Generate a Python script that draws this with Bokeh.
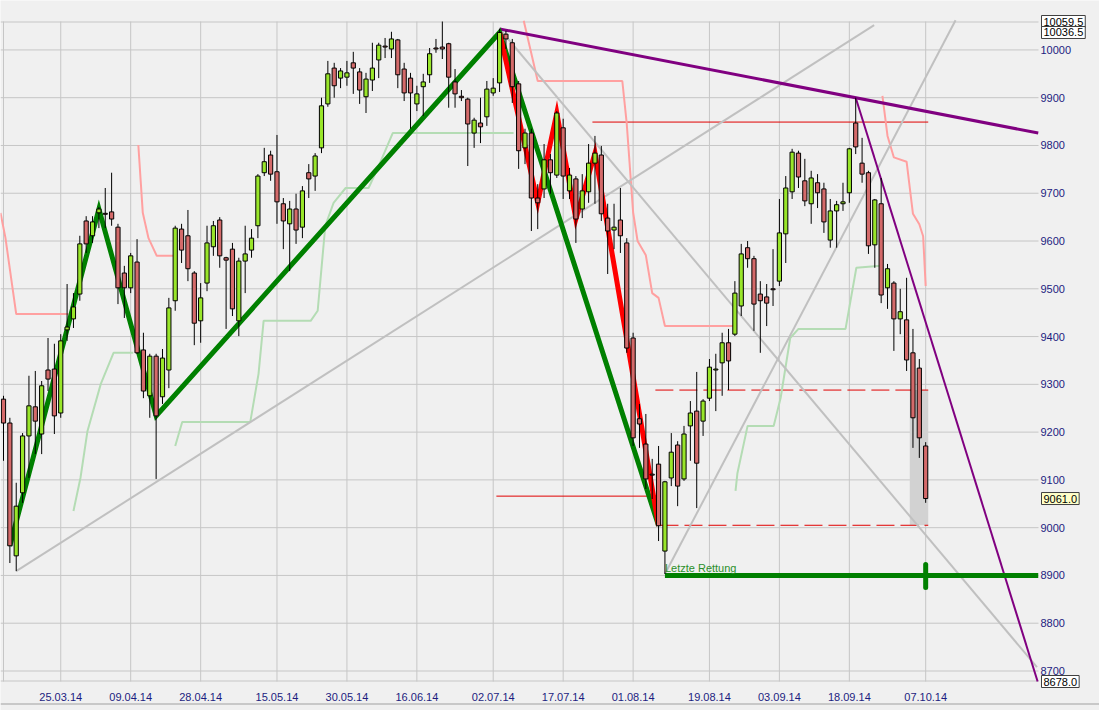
from bokeh.plotting import figure
from bokeh.models import Range1d, Label, ColumnDataSource
from bokeh.core.properties import value
from bokeh.embed import file_html
from bokeh.resources import INLINE

# ---------------- data (DAX daily, bar index 0 = 12.03.14) ----------------
opens = [9269, 9219, 8941, 9073, 9192, 9253, 9196, 9330, 9332, 9240,
         9414, 9437, 9489, 9642, 9611, 9659, 9658, 9661, 9629, 9533,
         9502, 9556, 9372, 9276, 9359, 9274, 9330, 9475, 9625, 9611,
         9533, 9433, 9512, 9588, 9644, 9565, 9583, 9433, 9558, 9581,
         9632, 9743, 9780, 9745, 9678, 9636, 9667, 9629, 9743, 9736,
         9795, 9887, 9962, 9941, 9943, 9973, 9954, 9902, 9937, 9979,
         10008, 10002, 10021, 9960, 9941, 9887, 9923, 9948, 10004, 10006,
         10013, 9933, 9903, 9897, 9826, 9847, 9860, 9910, 9931, 10033,
         10015, 9929, 9795, 9826, 9690, 9709, 9770, 9738, 9837, 9705,
         9730, 9667, 9703, 9763, 9780, 9648, 9623, 9644, 9596, 9397,
         9228, 9175, 9112, 9133, 8951, 9104, 9173, 9102, 9213, 9244,
         9223, 9271, 9330, 9345, 9387, 9405, 9464, 9586, 9563, 9489,
         9483, 9500, 9516, 9615, 9703, 9784, 9726, 9678, 9722, 9709,
         9602, 9663, 9678, 9701, 9847, 9763, 9743, 9592, 9678, 9502,
         9512, 9437, 9435, 9366, 9334, 9171]
highs = [9276, 9230, 9094, 9198, 9318, 9328, 9307, 9397, 9385, 9405,
         9510, 9491, 9611, 9652, 9652, 9671, 9711, 9743, 9636, 9548,
         9575, 9604, 9408, 9364, 9364, 9374, 9481, 9632, 9636, 9665,
         9537, 9512, 9632, 9642, 9650, 9567, 9596, 9565, 9632, 9625,
         9740, 9795, 9789, 9822, 9690, 9684, 9699, 9715, 9761, 9784,
         9900, 9977, 9973, 9962, 9977, 9996, 9962, 9952, 10015, 10015,
         10025, 10038, 10023, 9973, 9952, 9925, 9950, 10004, 10023, 10059.5,
         10015, 9960, 9916, 9900, 9858, 9900, 9935, 9941, 10044, 10040,
         10023, 9935, 9835, 9835, 9719, 9803, 9782, 9872, 9856, 9753,
         9736, 9740, 9803, 9820, 9799, 9678, 9678, 9711, 9606, 9408,
         9259, 9238, 9144, 9171, 9098, 9198, 9181, 9213, 9265, 9326,
         9269, 9353, 9364, 9408, 9416, 9516, 9594, 9600, 9569, 9516,
         9510, 9583, 9688, 9736, 9793, 9789, 9772, 9747, 9740, 9722,
         9688, 9684, 9722, 9795, 9900, 9816, 9747, 9688, 9732, 9552,
         9516, 9500, 9523, 9416, 9353, 9179]
lows = [9140, 8926, 8909, 9052, 9104, 9154, 9154, 9286, 9196, 9230,
        9391, 9418, 9475, 9575, 9596, 9627, 9627, 9632, 9468, 9439,
        9491, 9364, 9271, 9230, 9102, 9259, 9292, 9454, 9554, 9516,
        9382, 9387, 9495, 9569, 9544, 9416, 9443, 9401, 9491, 9565,
        9606, 9736, 9726, 9636, 9583, 9537, 9594, 9606, 9690, 9705,
        9784, 9881, 9900, 9920, 9925, 9908, 9887, 9868, 9914, 9941,
        9983, 9983, 9920, 9893, 9835, 9872, 9862, 9931, 9994, 9981,
        9879, 9879, 9893, 9757, 9795, 9805, 9841, 9904, 9912, 10002,
        9889, 9751, 9761, 9621, 9625, 9690, 9699, 9732, 9688, 9688,
        9596, 9648, 9680, 9678, 9642, 9531, 9583, 9575, 9366, 9171,
        9167, 9081, 9060, 8972, 8903, 9087, 9045, 9098, 9140, 9041,
        9192, 9265, 9244, 9276, 9288, 9401, 9443, 9544, 9412, 9366,
        9422, 9464, 9506, 9554, 9688, 9711, 9673, 9636, 9669, 9617,
        9586, 9586, 9663, 9680, 9782, 9722, 9573, 9544, 9470, 9458,
        9370, 9405, 9328, 9167, 9146, 9052]
closes = [9219, 8962, 9045, 9192, 9255, 9223, 9297, 9311, 9234, 9391,
          9420, 9462, 9594, 9594, 9640, 9667, 9656, 9646, 9502, 9502,
          9569, 9366, 9286, 9359, 9234, 9355, 9460, 9627, 9581, 9542,
          9428, 9481, 9596, 9632, 9569, 9560, 9458, 9558, 9573, 9606,
          9736, 9766, 9740, 9682, 9642, 9667, 9623, 9705, 9730, 9778,
          9883, 9950, 9925, 9956, 9952, 9962, 9916, 9939, 9962, 10010,
          10006, 10023, 9948, 9910, 9910, 9908, 9933, 9992, 10002, 10002,
          9943, 9908, 9900, 9845, 9853, 9839, 9918, 9920, 10036.5, 10023,
          9923, 9789, 9826, 9690, 9680, 9770, 9743, 9868, 9736, 9738,
          9646, 9705, 9763, 9784, 9657, 9621, 9629, 9611, 9376, 9188,
          9217, 9102, 9110, 9004, 9096, 9158, 9087, 9196, 9240, 9135,
          9265, 9336, 9332, 9387, 9349, 9491, 9573, 9563, 9468, 9475,
          9470, 9498, 9617, 9711, 9786, 9734, 9684, 9732, 9701, 9640,
          9663, 9676, 9682, 9793, 9797, 9740, 9590, 9686, 9487, 9542,
          9437, 9452, 9351, 9230, 9188, 9061]

grid_dates = [0, 9, 20, 31, 43, 54, 65, 77, 88, 99, 111, 122, 133, 145]
date_ticks = [9, 20, 31, 43, 54, 65, 77, 88, 99, 111, 122, 133, 145]
date_labels = ["25.03.14", "09.04.14", "28.04.14", "15.05.14", "30.05.14",
               "16.06.14", "02.07.14", "17.07.14", "01.08.14", "19.08.14",
               "03.09.14", "18.09.14", "07.10.14"]
price_ticks = [8700, 8800, 8900, 9000, 9100, 9200, 9300, 9400, 9500,
               9600, 9700, 9800, 9900, 10000]
price_labels = [str(v) for v in price_ticks]

# zigzags
green_zz_x = [1, 15, 24, 78, 103]
green_zz_y = [8962, 9667, 9234, 10036.5, 9004]
red_zz_x = [78, 84, 87, 90, 93, 103]
red_zz_y = [10036.5, 9680, 9868, 9646, 9784, 9004]

# trend lines
purple_top_x = [78, 162.7]
purple_top_y = [10044, 9826]
purple_down_x = [134, 162.6]
purple_down_y = [9900, 8678]
grey_a_x = [2, 136.9]
grey_a_y = [8909, 10052]
grey_b_x = [78, 162.5]
grey_b_y = [10044, 8708]
grey_c_x = [104, 149.7]
grey_c_y = [8903, 10062]

# upper stop line (pink)
pink1_x = [-0.47, 0.3, 2.0, 10.2]
pink1_y = [9659, 9607, 9447, 9447]
pink2_x = [21.2, 21.9, 22.8, 24.1, 26.7]
pink2_y = [9801, 9659, 9606, 9569, 9569]
pink3_x = [81.8, 84, 97.3, 98, 99, 99.7, 101, 102, 103, 104, 114.8]
pink3_y = [10061, 9935, 9935, 9845, 9660, 9600, 9570, 9491, 9481, 9422, 9422]
pink4_x = [138.2, 139, 140, 142, 143, 144, 144.6, 145]
pink4_y = [9904, 9820, 9775, 9766, 9657, 9635, 9610, 9506]

# lower stop line (pale green)
pg1_x = [11, 12.1, 13.2, 15.3, 17.3, 20.4]
pg1_y = [9035, 9104, 9202, 9301, 9366, 9366]
pg2_x = [27, 28.1, 38.8, 40.1, 40.9, 48.3, 49.4, 50.6, 51.9, 53.8, 57.4, 58.8, 61.2, 80.2]
pg2_y = [9171, 9221, 9221, 9322, 9433, 9433, 9454, 9632, 9680, 9711, 9711, 9751, 9826, 9826]
pg3_x = [115.1, 115.4, 117, 121.1, 122.2, 123.7, 125, 132.4, 134.1, 137.9]
pg3_y = [9077, 9114, 9213, 9213, 9272, 9397, 9416, 9416, 9544, 9548]

# horizontal levels
red_solid_levels = [9849, 9066]
red_solid_x0 = [92.6, 77.5]
red_solid_x1 = [145.4, 103.3]
red_dash_levels = [9288, 9005]
red_dash_x0 = [102.5, 103.3]
red_dash_x1 = [145.4, 145.4]
shade_x = [142.5, 145.4]
shade_y = [9005, 9288]
support_level = 8900
support_x = [104, 162.7]
support_mark_x = 145
support_mark_y = [8875, 8923]
support_text = "Letzte Rettung"
support_text_y = 8916

price_boxes = [("10059.5", 10059.5, "white"), ("10036.5", 10036.5, "white"),
               ("9061.0", 9061.0, "#ffffc8"), ("8678.0", 8678.0, "white")]

# ---------------- geometry ----------------
BG = "#f0f0f0"
GRID = "#c6c6c6"
NAVY = "#1c1c80"
FONT = "Liberation Sans"
W, H = 1099, 710
X0, XR = -0.472, 162.74          # chart area (bars)
Y0, Y1 = 8678.0, 10059.5          # chart area (price)
TOP_PX, BOT_PX = 21, 29           # strips above / below chart area
XPX = 1038.0 / (XR - X0)          # pixels per bar
YPX = (H - TOP_PX - BOT_PX) / (Y1 - Y0)   # pixels per point
XMAX = X0 + W / XPX
YTOP = Y1 + TOP_PX / YPX
YBOT = Y0 - BOT_PX / YPX

p = figure(width=W, height=H, x_range=Range1d(X0, XMAX), y_range=Range1d(YBOT, YTOP),
           output_backend="svg", toolbar_location=None,
           x_axis_location=None, y_axis_location=None,
           min_border_left=0, min_border_right=0, min_border_top=0, min_border_bottom=0)
p.background_fill_color = BG
p.border_fill_color = BG
p.outline_line_color = None
p.xgrid.grid_line_color = None
p.ygrid.grid_line_color = None

# grid of the chart area
p.segment(x0=grid_dates, x1=grid_dates, y0=[Y0] * len(grid_dates), y1=[Y1] * len(grid_dates),
          line_color=GRID, line_width=1)
p.segment(x0=[X0] * len(price_ticks), x1=[XR] * len(price_ticks),
          y0=price_ticks, y1=price_ticks, line_color=GRID, line_width=1)
p.segment(x0=[X0, X0], x1=[XR, XR], y0=[Y1 - 0.5 / YPX, Y0 + 0.5 / YPX],
          y1=[Y1 - 0.5 / YPX, Y0 + 0.5 / YPX], line_color=GRID, line_width=1)
# window bottom edge
p.segment(x0=[X0], x1=[XMAX], y0=[YBOT + 6.5 / YPX], y1=[YBOT + 6.5 / YPX],
          line_color="#a0a0a0", line_width=1)

# price scale labels (right)
p.text(x=[XR + 2 / XPX] * len(price_ticks), y=price_ticks, text=price_labels,
       text_font=value(FONT), text_font_size="11px", text_color=NAVY,
       text_baseline="middle", text_align="left")
# date labels (bottom)
p.text(x=date_ticks, y=[Y0 - 15.5 / YPX] * len(date_ticks), text=date_labels,
       text_font=value(FONT), text_font_size="11px", text_color=NAVY,
       text_baseline="middle", text_align="center")

# shaded box
p.quad(left=[shade_x[0]], right=[shade_x[1]], bottom=[shade_y[0]], top=[shade_y[1]],
       fill_color="#d2d2d2", line_color=None)

# red levels
p.segment(x0=red_solid_x0, x1=red_solid_x1, y0=red_solid_levels, y1=red_solid_levels,
          line_color="#e00000", line_width=1)
p.segment(x0=red_dash_x0, x1=red_dash_x1, y0=red_dash_levels, y1=red_dash_levels,
          line_color="#e00000", line_width=1, line_dash="18 6")

# stop lines
for xs, ys in ((pink1_x, pink1_y), (pink2_x, pink2_y), (pink3_x, pink3_y), (pink4_x, pink4_y)):
    p.line(xs, ys, line_color="#ffa0a0", line_width=2)
for xs, ys in ((pg1_x, pg1_y), (pg2_x, pg2_y), (pg3_x, pg3_y)):
    p.line(xs, ys, line_color="#b4dcb4", line_width=2)

# grey trend lines
for xs, ys in ((grey_a_x, grey_a_y), (grey_b_x, grey_b_y), (grey_c_x, grey_c_y)):
    p.line(xs, ys, line_color="#c0c0c0", line_width=2)

# purple trend lines
p.line(purple_top_x, purple_top_y, line_color="#800080", line_width=3)
p.line(purple_down_x, purple_down_y, line_color="#800080", line_width=2)

# zigzags
p.line(green_zz_x, green_zz_y, line_color="#008000", line_width=5, line_join="miter")
p.line(red_zz_x, red_zz_y, line_color="#ff0000", line_width=5, line_join="miter")

# support
p.segment(x0=[support_x[0]], x1=[support_x[1]], y0=[support_level], y1=[support_level],
          line_color="#008000", line_width=5)
p.segment(x0=[support_mark_x], x1=[support_mark_x], y0=[support_mark_y[0]], y1=[support_mark_y[1]],
          line_color="#008000", line_width=5, line_cap="round")
p.text(x=[support_x[0]], y=[support_text_y], text=[support_text],
       text_font=value(FONT), text_font_size="11px", text_color="#2a8f2a",
       text_baseline="alphabetic", text_align="left")

# candles
idx = list(range(len(closes)))
src = ColumnDataSource(dict(
    x=idx, h=highs, l=lows,
    top=[max(o, c) for o, c in zip(opens, closes)],
    bottom=[min(o, c) for o, c in zip(opens, closes)],
    color=["#99e62a" if c >= o else "#d46a6a" for o, c in zip(opens, closes)],
))
p.segment(x0="x", x1="x", y0="l", y1="h", source=src, line_color="black", line_width=1)
p.vbar(x="x", width=0.66, top="top", bottom="bottom", source=src,
       fill_color="color", line_color="black", line_width=1)

# price boxes on the scale (with a small drop shadow)
for txt, yv, bg in price_boxes:
    p.add_layout(Label(x=XR + 5 / XPX, y=yv - 2 / YPX, text=txt,
                       text_font=FONT, text_font_size="11px", text_alpha=0,
                       text_baseline="middle", text_align="left",
                       background_fill_color="#a8a8a8", padding=2))
    p.add_layout(Label(x=XR + 3 / XPX, y=yv, text=txt,
                       text_font=FONT, text_font_size="11px", text_color="black",
                       text_baseline="middle", text_align="left",
                       background_fill_color=bg, border_line_color="#404040",
                       border_line_width=1, padding=2))

open("out.html", "w").write(file_html(p, INLINE))
